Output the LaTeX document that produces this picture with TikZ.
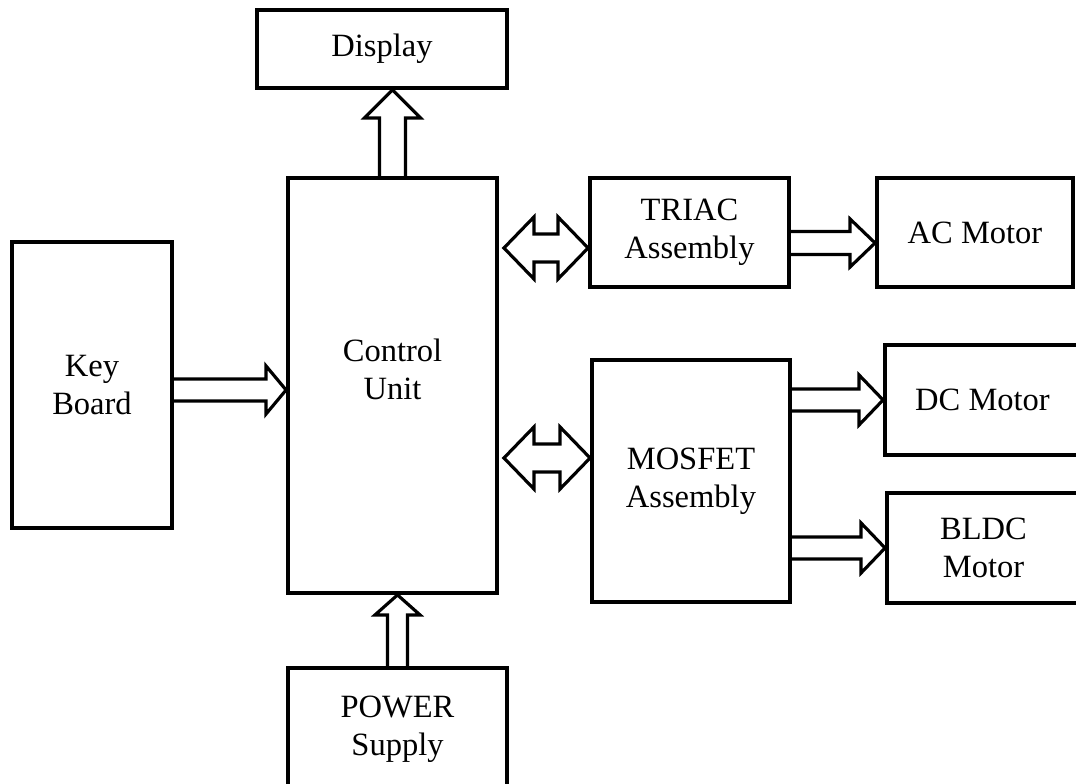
\documentclass[tikz,border=0pt]{standalone}
\usepackage{fontspec}
\setmainfont{Liberation Serif}
\usetikzlibrary{calc}

\tikzset{
    block/.style={draw, line width=2.2pt, align=center, inner sep=0pt,
        font=\fontsize{18.5}{21.6}\selectfont},
    txt/.style={align=center, inner sep=0pt, font=\fontsize{18.5}{21.6}\selectfont},
    hollow/.style={draw, line width=1.8pt, line join=miter},
}

% hollow arrow: start, tip, shaft half width, head half width, head length
\newcommand{\blockarrow}[5]{%
    \draw[hollow] let \p1=(#1), \p2=(#2),
        \n1={atan2(\y2-\y1,\x2-\x1)}, \n2={veclen(\x2-\x1,\y2-\y1)} in
        {[shift={(\p1)}, rotate=\n1]
        (0pt,-#3) -- ({\n2-#5},-#3) -- ({\n2-#5},-#4) -- ({\n2+0pt},0pt)
        -- ({\n2-#5},#4) -- ({\n2-#5},#3) -- (0pt,#3)};
}

% hollow double arrow: tip, tip, shaft half width, head half width, head length
\newcommand{\dblockarrow}[5]{%
    \draw[hollow] let \p1=(#1), \p2=(#2),
        \n1={atan2(\y2-\y1,\x2-\x1)}, \n2={veclen(\x2-\x1,\y2-\y1)} in
        {[shift={(\p1)}, rotate=\n1]
        (0pt,0pt) -- (#5,#4) -- (#5,#3) -- ({\n2-#5},#3) -- ({\n2-#5},#4)
        -- ({\n2+0pt},0pt) -- ({\n2-#5},-#4) -- ({\n2-#5},-#3) -- (#5,-#3)
        -- (#5,-#4) -- cycle};
}

\begin{document}
\begin{tikzpicture}

    % ==== FRAME ====
    \clip (0,0) rectangle (21.52,15.68);

    % ==== BLOCKS ====
    \node[block, minimum width=5cm, minimum height=1.56cm] (disp) at (7.64,14.70) {Display};
    \node[block, minimum width=4.18cm, minimum height=8.3cm] (ctrl) at (7.85,7.97) {};
    \node[txt] (ctrltxt) at ([yshift=0.32cm]ctrl.center) {Control\\Unit};
    \node[block, minimum width=3.2cm, minimum height=5.72cm] (kbd) at (1.84,7.98) {Key\\Board};
    \node[block, minimum width=4.38cm, minimum height=2.44cm] (psu) at (7.95,1.10) {POWER\\Supply};

    \node[block, minimum width=3.98cm, minimum height=2.18cm] (triac) at (13.79,11.03) {TRIAC\\Assembly};
    \node[block, minimum width=3.96cm, minimum height=4.84cm] (mosfet) at (13.82,6.06) {MOSFET\\Assembly};

    \node[block, minimum width=3.92cm, minimum height=2.18cm] (acm) at (19.5,11.03) {AC Motor};
    \node[block, minimum width=3.9cm, minimum height=2.2cm] (dcm) at (19.65,7.68) {DC Motor};
    \node[block, minimum width=3.86cm, minimum height=2.2cm] (bldc) at (19.67,4.72) {BLDC\\Motor};

    % ==== ARROW POINTS ====
    \coordinate (kbdout) at ([yshift=-0.1cm]kbd.east);
    \coordinate (triacin) at ([yshift=-0.31cm]triac.west);
    \coordinate (triacout) at ([yshift=-0.21cm]triac.east);
    \coordinate (mosfetin) at ([yshift=0.46cm]mosfet.west);
    \coordinate (ctrltriac) at ([xshift=0.1cm]triacin -| ctrl.east);
    \coordinate (ctrlmosfet) at ([xshift=0.1cm]mosfetin -| ctrl.east);

    % ==== CONTROL UNIT ARROWS ====
    \blockarrow{kbdout}{kbdout -| ctrl.west}{0.22cm}{0.48cm}{0.4cm}
    \blockarrow{ctrl.north}{ctrl.north |- disp.south}{0.26cm}{0.56cm}{0.56cm}
    \blockarrow{psu.north}{psu.north |- ctrl.south}{0.2cm}{0.45cm}{0.4cm}
    \dblockarrow{ctrltriac}{triacin}{0.28cm}{0.62cm}{0.6cm}
    \dblockarrow{ctrlmosfet}{mosfetin}{0.28cm}{0.62cm}{0.6cm}

    % ==== MOTOR ARROWS ====
    \blockarrow{triacout}{triacout -| acm.west}{0.23cm}{0.48cm}{0.5cm}
    \blockarrow{dcm.west -| mosfet.east}{dcm.west}{0.22cm}{0.5cm}{0.48cm}
    \blockarrow{bldc.west -| mosfet.east}{bldc.west}{0.22cm}{0.5cm}{0.48cm}

\end{tikzpicture}
\end{document}
